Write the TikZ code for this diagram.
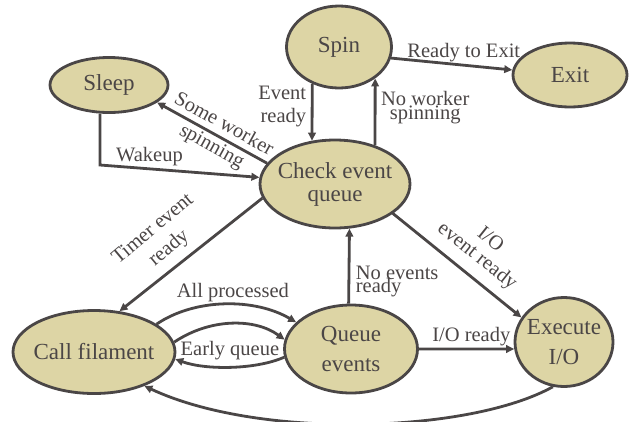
\documentclass[tikz,border=0pt]{standalone}
\usepackage{fontspec}
\setmainfont{Liberation Serif}
\usetikzlibrary{arrows.meta,shapes.geometric}
\definecolor{stateline}{RGB}{74,70,70}
\definecolor{statefill}{RGB}{221,213,165}
\definecolor{statetext}{RGB}{75,70,70}
\tikzset{
  state/.style={ellipse,draw=stateline,fill=statefill,line width=2.8pt,inner sep=-5pt,
    text=statetext,align=center,font=\fontsize{23}{23}\selectfont},
  trans/.style={draw=stateline,line width=2.8pt,-{Triangle[length=8pt,width=7.5pt]}},
  lbl/.style={text=statetext,inner sep=2pt,font=\fontsize{20.5}{23}\selectfont}
}
\begin{document}
\begin{tikzpicture}[x=1pt,y=-1pt]
\useasboundingbox (0,0) rectangle (629,421);
\node[state,minimum width=118pt,minimum height=55pt] (sleep) at (109,85) {Sleep};
\node[state,minimum width=105pt,minimum height=82pt] (spin) at (339,47) {Spin};
\node[state,minimum width=114pt,minimum height=64pt] (exit) at (570,75) {Exit};
\node[state,minimum width=150pt,minimum height=88pt] (check) at (335,184) {Check event\\queue};
\node[state,minimum width=162pt,minimum height=83pt] (call) at (94,352) {Call filament};
\node[state,minimum width=133pt,minimum height=88pt] (queue) at (351,349) {Queue\\[7pt]events};
\node[state,minimum width=98pt,minimum height=89pt] (exec) at (564,342) {Execute\\[7pt]I/O};

\draw[trans] (spin.234) -- (check.118) node[lbl,pos=0.4,left,outer sep=4pt,align=right]{Event\\ready};
\draw[trans] (check.44) -- (spin.319) node[lbl,pos=0.56,right,outer sep=4pt,align=center]{No worker\\[-9pt]spinning};
\draw[trans] (spin.348) -- (exit.175) node[lbl,pos=0.6,above]{Ready to Exit};

\draw[trans] (check.163) -- (sleep.340) node[lbl,pos=0.45,rotate=-29,align=center]{Some worker\\[2pt]spinning};
\coordinate (wake) at (100,165);
\draw[trans] (sleep.south -| wake) -- (wake) -- node[lbl,pos=0.31,above]{Wakeup} (check.175);

\draw[trans] (check.191) -- (call.58) node[lbl,pos=0.57,rotate=40,above,outer sep=7pt,align=center]{Timer event\\[2pt]ready};
\draw[trans] (check.333) -- (exec.150) node[lbl,pos=0.56,rotate=-38.5,above,outer sep=8pt,align=center]{I/O\\[-2pt]event ready};
\draw[trans] (queue.93) -- (check.288) node[lbl,pos=0.3,right,outer sep=5pt,align=left]{No events\\[-10pt]ready};
\draw[trans] (queue.east) -- (exec.188) node[lbl,pos=0.55,above]{I/O ready};

% call filament <-> queue events
\draw[trans] (call.24) .. controls (195,298) and (255,298) .. (queue.154) node[lbl,pos=0.55,above,inner sep=1pt]{All processed};
\draw[trans] (call.7) .. controls (210,318) and (255,318) .. (queue.172);
\draw[trans] (queue.187) .. controls (255,370) and (205,370) .. (call.355) node[lbl,midway,above,outer sep=5pt]{Early queue};
\draw[trans] (exec.256) .. controls (470,433) and (260,440) .. (call.326);
\end{tikzpicture}
\end{document}
